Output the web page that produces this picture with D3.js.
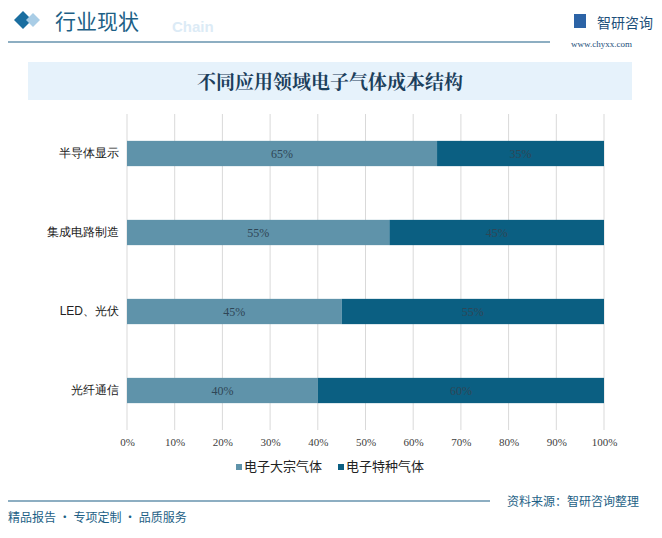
<!DOCTYPE html><html><head><meta charset="utf-8"><script src="https://cdn.jsdelivr.net/npm/d3@7"></script>
<style>body{margin:0;background:#fff}svg{display:block;font-family:"Noto Sans CJK SC",sans-serif}</style></head><body>
<svg id="c" width="662" height="538"></svg>
<script>
const categories=["半导体显示","集成电路制造","LED、光伏","光纤通信"];
const bulk=[65,55,45,40];
const special=[35,45,55,60];
const seriesNames=["电子大宗气体","电子特种气体"];
const ticks=[0,10,20,30,40,50,60,70,80,90,100];
const colors=["#5f93aa","#0b5f82"];
const svg=d3.select("#c");
// header
svg.append("text").attr("x",172).attr("y",32).attr("font-size",15).attr("font-weight","bold").attr("fill","#dcebf6").attr("font-family","Arial").text("Chain");
svg.append("path").attr("d","M14,20 L23,11 L32,20 L23,29Z").attr("fill","#1a6ea0");
svg.append("path").attr("d","M26,20 L33,13 L40,20 L33,27Z").attr("fill","#a9cde6");
svg.append("text").attr("x",55).attr("y",29).attr("font-size",21).attr("fill","#1d5f86").text("行业现状");
svg.append("line").attr("x1",8).attr("x2",550).attr("y1",42).attr("y2",42).attr("stroke","#1d5f86").attr("stroke-width",1.2);
svg.append("rect").attr("x",574).attr("y",14).attr("width",12).attr("height",14).attr("fill","#2c63a6");
svg.append("text").attr("x",597).attr("y",28).attr("font-size",14).attr("fill","#1d4f7a").text("智研咨询");
svg.append("text").attr("x",571).attr("y",47).attr("font-size",9).attr("fill","#1d4f7a").attr("font-family","Liberation Serif").text("www.chyxx.com");
svg.append("rect").attr("x",28).attr("y",62).attr("width",604).attr("height",38).attr("fill","#e6f2fb");
svg.append("text").attr("x",330).attr("y",89).attr("text-anchor","middle").attr("font-size",19).attr("font-weight","bold").attr("fill","#1c3f5c").attr("font-family","Noto Serif CJK SC, Noto Sans CJK SC").text("不同应用领域电子气体成本结构");
// chart
const x=d3.scaleLinear().domain([0,100]).range([127,604]);
const y=d3.scaleBand().domain(categories).range([114,430]).paddingInner(0.68).paddingOuter(0.34);
svg.append("g").selectAll("line").data(ticks).join("line").attr("x1",d=>x(d)).attr("x2",d=>x(d)).attr("y1",114).attr("y2",430).attr("stroke","#d9d9d9");
const ax=svg.append("g").attr("transform","translate(0,430)").call(d3.axisBottom(x).tickValues(ticks).tickFormat(d=>d+"%").tickSize(0).tickPadding(8));
ax.select(".domain").remove();
ax.selectAll("text").attr("font-size",11).attr("fill","#404040").attr("font-family","Liberation Serif, serif");
const ay=svg.append("g").attr("transform","translate(127,0)").call(d3.axisLeft(y).tickSize(0).tickPadding(8));
ay.select(".domain").remove();
ay.selectAll("text").attr("font-size",12).attr("fill","#222");
const stack=categories.map((c,i)=>({c,v:[[0,bulk[i]],[bulk[i],bulk[i]+special[i]]]}));
[0,1].forEach(s=>{
 const g=svg.append("g");
 g.selectAll("rect").data(stack).join("rect").attr("x",d=>x(d.v[s][0])).attr("width",d=>x(d.v[s][1])-x(d.v[s][0])).attr("y",d=>y(d.c)).attr("height",y.bandwidth()).attr("fill",colors[s]);
 g.selectAll("text").data(stack).join("text").attr("x",d=>(x(d.v[s][0])+x(d.v[s][1]))/2).attr("y",d=>y(d.c)+y.bandwidth()/2+4).attr("text-anchor","middle").attr("font-size",12).attr("fill","#2f4656").attr("font-family","Liberation Serif, serif").text(d=>(d.v[s][1]-d.v[s][0])+"%");
});
// legend
const lg=svg.append("g").attr("transform","translate(236,468)");
seriesNames.forEach((n,i)=>{
 const o=i*102;
 lg.append("rect").attr("x",o).attr("y",-4).attr("width",6).attr("height",6).attr("fill",colors[i]);
 lg.append("text").attr("x",o+8).attr("y",3).attr("font-size",13).attr("fill","#222").text(n);
});
// footer
svg.append("line").attr("x1",8).attr("x2",490).attr("y1",501).attr("y2",501).attr("stroke","#1d5f86").attr("stroke-width",1.2);
svg.append("text").attr("x",507).attr("y",506).attr("font-size",12).attr("fill","#1d5f86").text("资料来源：智研咨询整理");
svg.append("text").attr("x",8).attr("y",522).attr("font-size",12).attr("fill","#1d5f86").text("精品报告 · 专项定制 · 品质服务");
</script></body></html>
